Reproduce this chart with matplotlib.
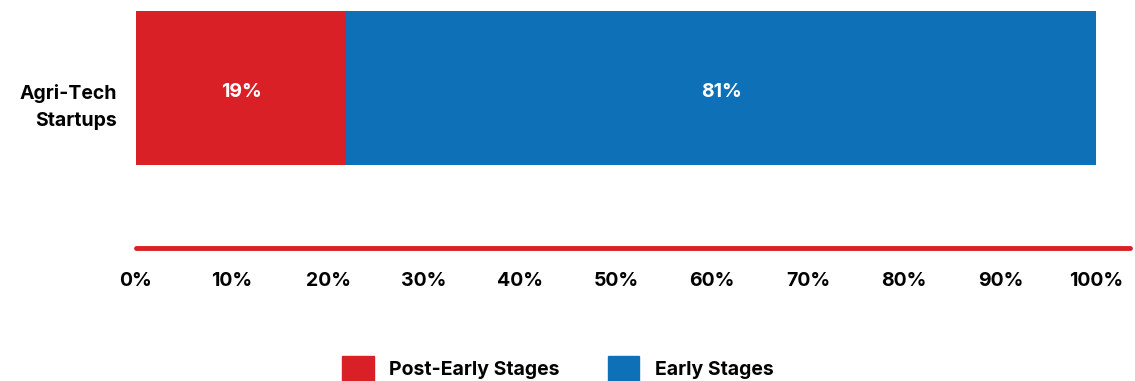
import matplotlib.pyplot as plt
from matplotlib.patches import Patch
from matplotlib.transforms import ScaledTranslation

plt.rcParams['font.family'] = ['Inter', 'DejaVu Sans']

category = "Agri-Tech\nStartups"
series = ["Post-Early Stages", "Early Stages"]
bar_lengths = [21.9, 78.1]     # drawn widths as they appear in the picture
bar_labels = ["19%", "81%"]
colors = ["#D92027", "#0E71B8"]
xticks = [0, 10, 20, 30, 40, 50, 60, 70, 80, 90, 100]

fig = plt.figure(figsize=(11.35, 3.81), dpi=100)
ax = fig.add_axes([136/1135, 133/381, 994/1135, 237/381])

left = 0
for val, lab, c in zip(bar_lengths, bar_labels, colors):
    ax.barh(0, val, left=left, height=1, color=c)
    ax.text(left + val/2, -0.025, lab, ha='center', va='center', color='white',
            fontsize=14, fontweight='bold')
    left += val

ax.set_xlim(0, 103.5)
ax.set_ylim(-1.039, 0.5)
ax.set_xticks(xticks)
ax.set_xticklabels([f"{t}%" for t in xticks], fontsize=14, fontweight='bold')
ax.set_yticks([0])
ax.set_yticklabels([category], fontsize=14, fontweight='bold', linespacing=1.65)
ax.tick_params(axis='both', length=0)
ax.tick_params(axis='x', pad=17)
ax.tick_params(axis='y', pad=14)
for lbl in ax.get_yticklabels():
    lbl.set_transform(lbl.get_transform() + ScaledTranslation(0, -9/72, fig.dpi_scale_trans))

for s in ['top', 'right', 'left']:
    ax.spines[s].set_visible(False)
ax.spines['bottom'].set_color(colors[0])
ax.spines['bottom'].set_linewidth(3.5)
ax.spines['bottom'].set_capstyle('round')

handles = [Patch(color=c, label=s) for c, s in zip(colors, series)]
fig.legend(handles=handles, loc='lower center', bbox_to_anchor=(558/1135, -0.05),
           ncol=2, frameon=False, prop={'size': 14, 'weight': 'bold'},
           handlelength=1.6, handleheight=1.75, handletextpad=0.8, columnspacing=2.5)

fig.savefig("out.png", dpi=100)
